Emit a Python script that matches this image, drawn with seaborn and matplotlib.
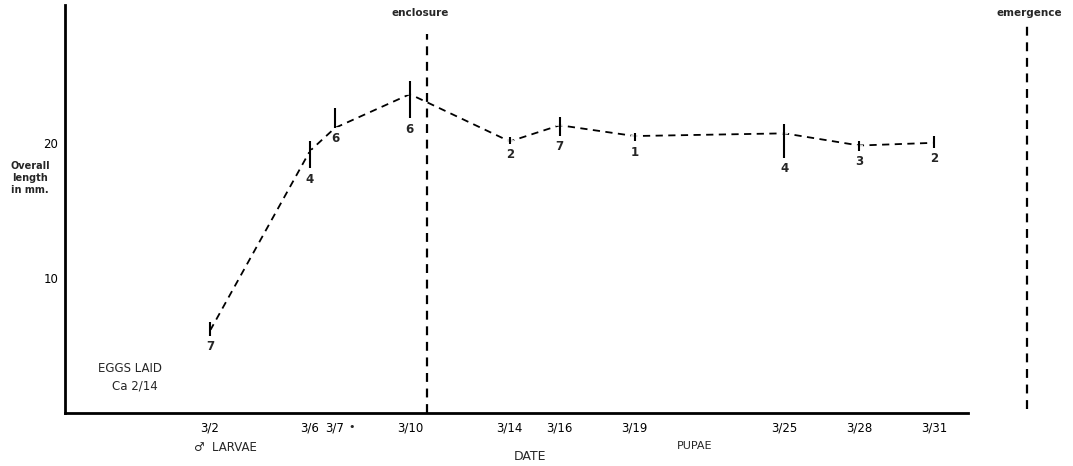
import matplotlib
matplotlib.use("Agg")
import matplotlib.pyplot as plt
import pandas as pd
import seaborn as sns

# day of March for each sample
days = [2, 6, 7, 10, 14, 16, 19, 25, 28, 31]
day_labels = ["3/2", "3/6", "3/7", "3/10", "3/14", "3/16", "3/19", "3/25", "3/28", "3/31"]
mean_length = [6.1, 19.4, 21.1, 23.6, 20.1, 21.3, 20.5, 20.7, 19.8, 20.0]
range_low = [5.7, 18.1, 21.1, 21.8, 19.9, 20.5, 20.1, 18.9, 19.4, 19.6]
range_high = [6.7, 20.1, 22.6, 24.6, 20.4, 21.9, 20.7, 21.4, 20.1, 20.5]
n_animals = [7, 4, 6, 6, 2, 7, 1, 4, 3, 2]
enclosure_day = 10.7
emergence_day = 34.7


def main():
    sns.set_style("white")
    plt.rcParams["font.family"] = ["DejaVu Sans"]

    df = pd.DataFrame({"day": days, "length": mean_length, "lo": range_low, "hi": range_high, "n": n_animals})

    fig = plt.figure(figsize=(10.73, 4.66), dpi=100)
    ax = fig.add_axes([65 / 1073, 53 / 466, 903 / 1073, 408 / 466])

    sns.lineplot(data=df, x="day", y="length", ax=ax, color="black", lw=1.3,
                 linestyle=(0, (4, 3)), marker="_", markersize=6, markeredgewidth=1.2)
    ax.vlines(df["day"], df["lo"], df["hi"], color="black", lw=1.5)

    for row in df.itertuples(index=False):
        ax.annotate(str(row.n), xy=(row.day, row.lo), xytext=(0, -3), textcoords="offset points",
                    ha="center", va="top", fontsize=8.5, fontweight="bold")

    # enclosure / emergence markers
    ax.axvline(enclosure_day, ymin=0, ymax=0.93, color="black", lw=1.6, linestyle=(0, (4, 3)))
    ax.axvline(emergence_day, ymin=0.01, ymax=0.96, color="black", lw=1.6, linestyle=(0, (4, 3)),
               clip_on=False)
    ax.text(enclosure_day - 0.3, 29.6, "enclosure", ha="center", va="center", fontsize=7.5,
            fontweight="bold")
    ax.text(emergence_day + 0.1, 29.6, "emergence", ha="center", va="center", fontsize=7.5,
            fontweight="bold", clip_on=False)

    ax.set_xlim(-3.81, 32.35)
    ax.set_ylim(0, 30.2)
    ax.set_xticks(days)
    ax.set_xticklabels(day_labels, fontsize=8.5)
    ax.set_yticks([10, 20])
    ax.set_yticklabels(["10", "20"], fontsize=8.5)
    ax.tick_params(axis="x", direction="in", length=5, width=1, pad=6, colors="black")
    ax.tick_params(axis="y", direction="out", length=4, width=1, pad=1, colors="black")
    ax.set_xlabel("")
    ax.set_ylabel("")

    for side in ["top", "right"]:
        ax.spines[side].set_visible(False)
    for side in ["left", "bottom"]:
        ax.spines[side].set_color("black")
        ax.spines[side].set_linewidth(2)

    ax.text(7.68, -1.0, "\u2022", ha="center", va="center", fontsize=8, clip_on=False)
    ax.text(-1.2, 3.26, "EGGS LAID", ha="center", va="center", fontsize=8.5)
    ax.text(-1.0, 2.0, "Ca 2/14", ha="center", va="center", fontsize=8.5)

    fig.text(30 / 1073, 1 - 178 / 466, "Overall\nlength\nin mm.", ha="center", va="center",
             fontsize=7, fontweight="bold", linespacing=1.3)
    fig.text(225 / 1073, 1 - 447 / 466, "\u2642  LARVAE", ha="center", va="center", fontsize=8.5)
    fig.text(695 / 1073, 1 - 446 / 466, "PUPAE", ha="center", va="center", fontsize=8)
    fig.text(530 / 1073, 1 - 456 / 466, "DATE", ha="center", va="center", fontsize=9)

    fig.savefig("out.png", dpi=100)
    plt.close(fig)


if __name__ == "__main__":
    main()
